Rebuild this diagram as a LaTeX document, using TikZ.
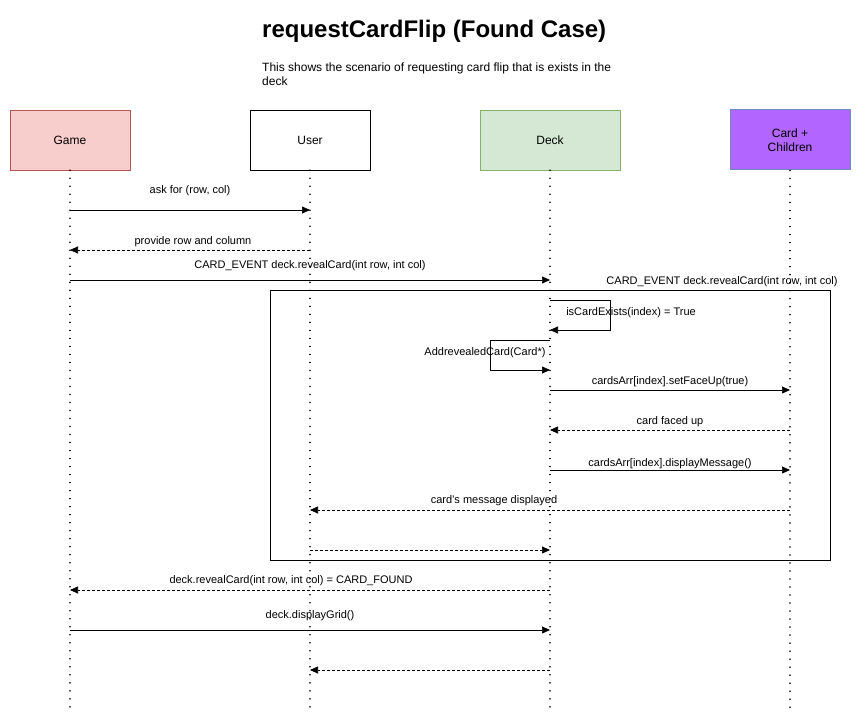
\documentclass[tikz,border=0pt]{standalone}
\usepackage{fontspec}
\setmainfont{Liberation Sans}
\usetikzlibrary{arrows.meta}
\definecolor{gamefill}{HTML}{F8CECC}
\definecolor{gamedraw}{HTML}{B85450}
\definecolor{deckfill}{HTML}{D5E8D4}
\definecolor{deckdraw}{HTML}{82B366}
\definecolor{cardfill}{HTML}{B266FF}
\definecolor{carddraw}{HTML}{6C8EBF}
\begin{document}
\begin{tikzpicture}[x=1pt,y=-1pt,
  actor/.style={draw, minimum width=120pt, minimum height=60pt, font=\fontsize{12}{14}\selectfont, align=center, inner sep=0pt},
  lifeline/.style={line width=1.6pt, dash pattern=on 0.01pt off 8pt, line cap=round},
  msg/.style={-{Triangle[length=8pt,width=7pt]}, line width=0.7pt},
  ret/.style={msg, dash pattern=on 3pt off 2pt},
  lbl/.style={font=\fontsize{11}{13}\selectfont, inner sep=0pt, anchor=center}]
\useasboundingbox (0,0) rectangle (861,722);
% title
\node[anchor=west, font=\fontsize{24}{28}\selectfont\bfseries, inner sep=0pt] (title) at (262,31) {requestCardFlip (Found Case)};
\node[anchor=north west, align=left, font=\fontsize{12}{14}\selectfont, inner sep=0pt] (sub) at (262,63) {This shows the scenario of requesting card flip that is exists in the\\deck};
% actors
\node[actor, fill=gamefill, draw=gamedraw] (game) at (70,140) {Game};
\node[actor, fill=white, draw=black] (user) at (310,140) {User};
\node[actor, fill=deckfill, draw=deckdraw, minimum width=140pt] (deck) at (550,140) {Deck};
\node[actor, fill=cardfill, draw=carddraw, line width=1pt] (card) at (790,140) {Card +\\Children};
% lifeline ends
\coordinate (gend) at (70,712);
\coordinate (uend) at (310,712);
\coordinate (dend) at (550,712);
\coordinate (cend) at (790,712);
% frame
\draw[line width=0.8pt] (270,290) rectangle (830,560);
\node[lbl] (framelbl) at (722,282) {CARD\_EVENT deck.revealCard(int row, int col)};
\draw[lifeline] (game.south) -- (gend);
\draw[lifeline] (user.south) -- (uend);
\draw[lifeline] (deck.south) -- (dend);
\draw[lifeline] (card.south) -- (cend);
% message points
\coordinate (g1) at (70,210); \coordinate (u1) at (310,210);
\coordinate (g2) at (70,250); \coordinate (u2) at (310,250);
\coordinate (g3) at (70,280); \coordinate (d3) at (550,280);
\coordinate (d4a) at (550,300); \coordinate (d4b) at (610,300); \coordinate (d4c) at (610,330); \coordinate (d4d) at (550,330);
\coordinate (d5a) at (550,340); \coordinate (d5b) at (490,340); \coordinate (d5c) at (490,370); \coordinate (d5d) at (550,370);
\coordinate (d6) at (550,390); \coordinate (c6) at (790,390);
\coordinate (d7) at (550,430); \coordinate (c7) at (790,430);
\coordinate (d8) at (550,470); \coordinate (c8) at (790,470);
\coordinate (u9) at (310,510); \coordinate (c9) at (790,510);
\coordinate (u10) at (310,550); \coordinate (d10) at (550,550);
\coordinate (g11) at (70,590); \coordinate (d11) at (550,590);
\coordinate (g12) at (70,630); \coordinate (d12) at (550,630);
\coordinate (u13) at (310,670); \coordinate (d13) at (550,670);
% messages
\draw[msg] (g1) -- (u1);
\node[lbl] (l1) at (190,191) {ask for (row, col)};
\draw[ret] (u2) -- (g2);
\node[lbl] (l2) at (193,242) {provide row and column};
\draw[msg] (g3) -- (d3);
\node[lbl] (l3) at (310,266) {CARD\_EVENT deck.revealCard(int row, int col)};
\draw[msg] (d4a) -- (d4b) -- (d4c) -- (d4d);
\node[lbl] (l4) at (631,313) {isCardExists(index) = True};
\draw[msg] (d5a) -- (d5b) -- (d5c) -- (d5d);
\node[lbl] (l5) at (485,353) {AddrevealedCard(Card*)};
\draw[msg] (d6) -- (c6);
\node[lbl] (l6) at (670,382) {cardsArr[index].setFaceUp(true)};
\draw[ret] (c7) -- (d7);
\node[lbl] (l7) at (670,422) {card faced up};
\draw[msg] (d8) -- (c8);
\node[lbl] (l8) at (670,464) {cardsArr[index].displayMessage()};
\draw[ret] (c9) -- (u9);
\node[lbl] (l9) at (494,501) {card's message displayed};
\draw[ret] (u10) -- (d10);
\draw[ret] (d11) -- (g11);
\node[lbl] (l11) at (291,581) {deck.revealCard(int row, int col) = CARD\_FOUND};
\draw[msg] (g12) -- (d12);
\node[lbl] (l12) at (310,616) {deck.displayGrid()};
\draw[ret] (d13) -- (u13);
\end{tikzpicture}
\end{document}
